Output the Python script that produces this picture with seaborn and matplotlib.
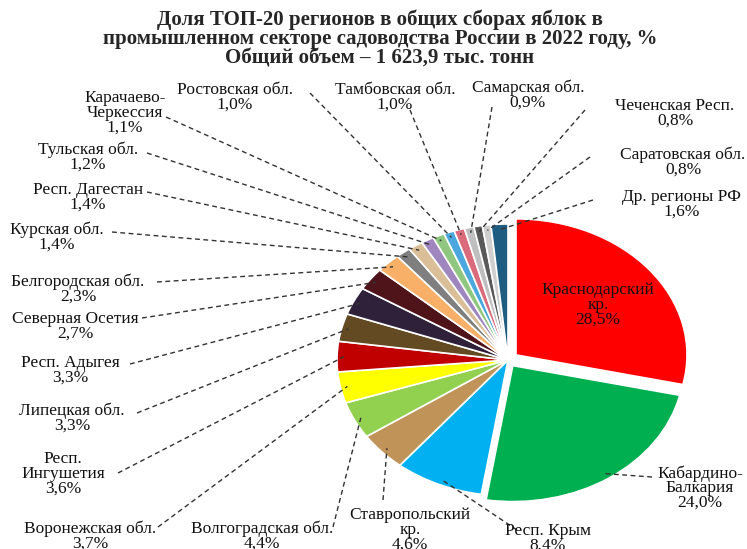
import numpy as np
import matplotlib.pyplot as plt
import seaborn as sns

# данные
regions = ['Краснодарский\nкр.', 'Кабардино-\nБалкария', 'Респ. Крым', 'Ставропольский\nкр.',
           'Волгоградская обл.', 'Воронежская обл.', 'Респ.\nИнгушетия', 'Липецкая обл.',
           'Респ. Адыгея', 'Северная Осетия', 'Белгородская обл.', 'Курская обл.',
           'Респ. Дагестан', 'Тульская обл.', 'Карачаево-\nЧеркессия', 'Ростовская обл.',
           'Тамбовская обл.', 'Самарская обл.', 'Чеченская Респ.', 'Саратовская обл.',
           'Др. регионы РФ']
shares = [28.5, 24.0, 8.4, 4.6, 4.4, 3.7, 3.6, 3.3, 3.3, 2.7, 2.3, 1.4, 1.4, 1.2, 1.1,
          1.0, 1.0, 0.9, 0.8, 0.8, 1.6]
colors = ['#FF0000', '#00B050', '#00B0F0', '#C09458', '#92D050', '#FFFF00', '#C00000',
          '#634A22', '#30213B', '#4E141A', '#F8B068', '#7F7F7F', '#D9BE97', '#9F86BE',
          '#8FC680', '#4BA7DD', '#DA6B7B', '#BFBFBF', '#595959', '#CFCFCF', '#1F5C82']
explode = [0.06, 0.05] + [0] * 19

title = ('Доля ТОП-20 регионов в общих сборах яблок в\n'
         'промышленном секторе садоводства России в 2022 году, %\n'
         'Общий объем – 1 623,9 тыс. тонн')

# положение подписей (центр текста) и начала выносок, в пикселях от верхнего левого угла
label_pos = [(598, 305), (700, 488), (548, 538), (410, 530), (262, 536), (90, 536),
             (63, 474), (72, 418), (70, 370), (75, 326), (78, 289), (57, 237),
             (88, 197), (88, 157), (125, 113), (235, 97), (395, 97), (528, 95),
             (675, 113), (683, 162), (682, 204)]
line_start = [None, (652, 477), (517, 530), (383, 500), (333, 527), (158, 527),
              (118, 473), (137, 413), (130, 364), (142, 318), (157, 282), (112, 232),
              (147, 192), (147, 153), (166, 117), (310, 93), (410, 110), (492, 107),
              (585, 110), (590, 157), (593, 200)]

W, H = 747, 549
CX, CY, RX, RY = 508, 360, 171, 136


def P(x, y):
    return (x - CX) / RX, (CY - y) / RY


sns.set_theme(style="white")
plt.rcParams['font.family'] = ['Liberation Serif', 'DejaVu Serif']

fig = plt.figure(figsize=(W / 100, H / 100), dpi=100)
ax = fig.add_axes([0, 0, 1, 1])
wedges, _ = ax.pie(shares, colors=colors, explode=explode, startangle=90, counterclock=False,
                   radius=1, wedgeprops=dict(edgecolor='white', linewidth=1.2))
ax.set_aspect('auto')
ax.set_xlim(P(0, 0)[0], P(W, 0)[0])
ax.set_ylim(P(0, H)[1], P(0, 0)[1])
ax.axis('off')

for i, (name, v) in enumerate(zip(regions, shares)):
    txt = name + '\n' + f"{v:.1f}".replace('.', ',') + '%'
    tx, ty = P(*label_pos[i])
    ax.text(tx, ty, txt, ha='center', va='center', multialignment='center',
            fontsize=12.5, linespacing=0.88, color='#111111')
    if line_start[i] is None:
        continue
    w = wedges[i]
    mid = np.deg2rad((w.theta1 + w.theta2) / 2)
    cx, cy = w.center
    ex, ey = cx + 0.96 * np.cos(mid), cy + 0.96 * np.sin(mid)
    sx, sy = P(*line_start[i])
    ax.plot([sx, ex], [sy, ey], color='#333333', lw=1, ls=(0, (3.5, 2.5)))

fig.text(380 / W, 1 - 39 / H, title, ha='center', va='center', fontsize=15,
         fontweight='bold', linespacing=0.92)

fig.savefig('out.png', dpi=100)
